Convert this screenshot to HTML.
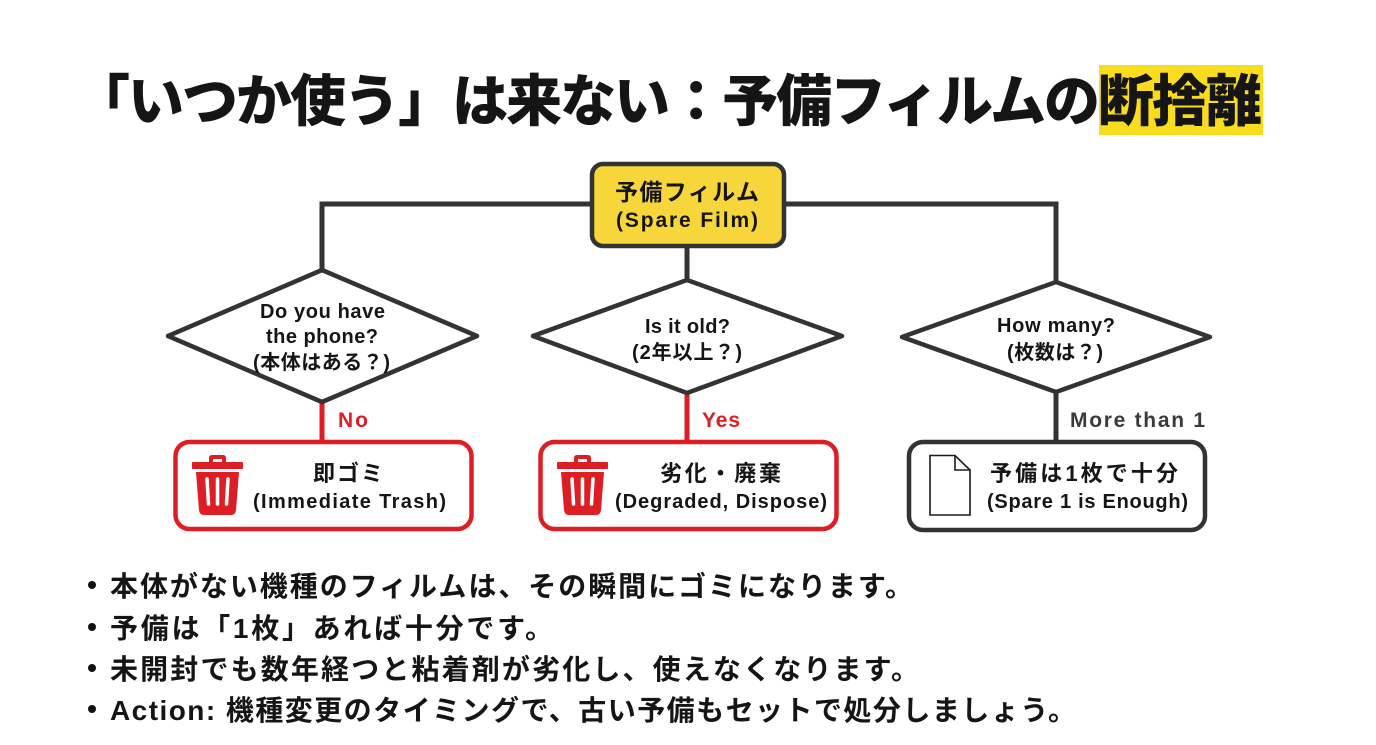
<!DOCTYPE html>
<html lang="ja">
<head>
<meta charset="utf-8">
<style>
  html, body { margin: 0; padding: 0; background: #ffffff; }
  body { width: 1376px; height: 745px; overflow: hidden; }
  svg { display: block; }
  text { font-family: "Liberation Sans", "Noto Sans CJK JP", sans-serif; font-weight: bold; fill: #151515; }
</style>
</head>
<body>
<svg width="1376" height="745" viewBox="0 0 1376 745" xmlns="http://www.w3.org/2000/svg">
  <rect x="0" y="0" width="1376" height="745" fill="#ffffff"/>

  <!-- Title -->
  <rect x="1099" y="65" width="164" height="70" fill="#FADC1E"/>
  <text x="74" y="121" font-size="56" style="font-weight:900" fill="#0a0a0a" textLength="1188" lengthAdjust="spacing">「いつか使う」は来ない：予備フィルムの断捨離</text>

  <!-- Connectors (dark) -->
  <g stroke="#333333" stroke-width="5" fill="none" stroke-linecap="square">
    <polyline points="592,204 322,204 322,270"/>
    <polyline points="784,204 1056,204 1056,282"/>
    <line x1="687" y1="246" x2="687" y2="280"/>
    <line x1="1056" y1="392" x2="1056" y2="440"/>
  </g>
  <!-- Connectors (red) -->
  <g stroke="#DD1E24" stroke-width="5" fill="none">
    <line x1="322" y1="402" x2="322" y2="441"/>
    <line x1="687" y1="393" x2="687" y2="441"/>
  </g>

  <!-- Top node -->
  <rect x="592" y="164" width="192" height="82" rx="11" ry="11" fill="#F6D63A" stroke="#333333" stroke-width="4.5"/>
  <text x="615" y="200" font-size="23" textLength="144" lengthAdjust="spacing">予備フィルム</text>
  <text x="616" y="227" font-size="21" textLength="142" lengthAdjust="spacing">(Spare Film)</text>

  <!-- Diamonds -->
  <g fill="#ffffff" stroke="#333333" stroke-width="4.5" stroke-linejoin="round">
    <polygon points="168,336 322,270 477,336 322,402"/>
    <polygon points="533,336 687,280 842,336 687,393"/>
    <polygon points="902,337 1056,282 1210,337 1056,392"/>
  </g>

  <!-- Diamond texts -->
  <text x="260" y="318" font-size="20" textLength="125" lengthAdjust="spacing">Do you have</text>
  <text x="266" y="343" font-size="20" textLength="112" lengthAdjust="spacing">the phone?</text>
  <text x="253" y="369" font-size="20" textLength="137" lengthAdjust="spacing">(本体はある？)</text>

  <text x="645" y="333" font-size="20" textLength="85" lengthAdjust="spacing">Is it old?</text>
  <text x="632" y="359" font-size="20" textLength="110" lengthAdjust="spacing">(2年以上？)</text>

  <text x="997" y="332" font-size="20" textLength="118" lengthAdjust="spacing">How many?</text>
  <text x="1007" y="359" font-size="20" textLength="96" lengthAdjust="spacing">(枚数は？)</text>

  <!-- Edge labels -->
  <text x="338" y="427" font-size="21" fill="#DD1E24" style="fill:#DD1E24" textLength="30" lengthAdjust="spacing">No</text>
  <text x="702" y="427" font-size="21" style="fill:#DD1E24" textLength="38" lengthAdjust="spacing">Yes</text>
  <text x="1070" y="427" font-size="21" style="fill:#3a3a3a" textLength="135" lengthAdjust="spacing">More than 1</text>

  <!-- Result boxes -->
  <rect x="175.5" y="442" width="296" height="87" rx="14" ry="14" fill="#ffffff" stroke="#DD1E24" stroke-width="4.5"/>
  <rect x="540.5" y="442" width="296" height="87" rx="14" ry="14" fill="#ffffff" stroke="#DD1E24" stroke-width="4.5"/>
  <rect x="909" y="442" width="296" height="88" rx="14" ry="14" fill="#ffffff" stroke="#333333" stroke-width="4.5"/>

  <!-- Trash icon 1 -->
  <g id="trash">
    <path d="M209,463 V458 Q209,455 212,455 H223 Q226,455 226,458 V463 H222 V459 H213 V463 Z" fill="#DD1E24"/>
    <rect x="192" y="462" width="51" height="7" rx="1" fill="#DD1E24"/>
    <path d="M196,472 H239 L236,510 Q235.5,515 231,515 H204 Q199.5,515 199,510 Z" fill="#DD1E24"/>
    <g stroke="#ffffff" stroke-width="3.5" stroke-linecap="round">
      <line x1="207" y1="479" x2="208.5" y2="504"/>
      <line x1="217.5" y1="479" x2="217.5" y2="504"/>
      <line x1="228" y1="479" x2="226.5" y2="504"/>
    </g>
  </g>
  <!-- Trash icon 2 -->
  <g transform="translate(365,0)">
    <path d="M209,463 V458 Q209,455 212,455 H223 Q226,455 226,458 V463 H222 V459 H213 V463 Z" fill="#DD1E24"/>
    <rect x="192" y="462" width="51" height="7" rx="1" fill="#DD1E24"/>
    <path d="M196,472 H239 L236,510 Q235.5,515 231,515 H204 Q199.5,515 199,510 Z" fill="#DD1E24"/>
    <g stroke="#ffffff" stroke-width="3.5" stroke-linecap="round">
      <line x1="207" y1="479" x2="208.5" y2="504"/>
      <line x1="217.5" y1="479" x2="217.5" y2="504"/>
      <line x1="228" y1="479" x2="226.5" y2="504"/>
    </g>
  </g>

  <!-- Document icon -->
  <path d="M930,455.5 H955 L970,470 V515 H930 Z" fill="#ffffff" stroke="#1a1a1a" stroke-width="1.6" stroke-linejoin="miter"/>
  <path d="M955,455.5 V470 H970" fill="none" stroke="#1a1a1a" stroke-width="1.6"/>

  <!-- Box texts -->
  <text x="313" y="481" font-size="22" textLength="70" lengthAdjust="spacing">即ゴミ</text>
  <text x="253" y="508" font-size="20" textLength="193" lengthAdjust="spacing">(Immediate Trash)</text>

  <text x="660" y="481" font-size="22" textLength="121" lengthAdjust="spacing">劣化・廃棄</text>
  <text x="615" y="508" font-size="20" textLength="212" lengthAdjust="spacing">(Degraded, Dispose)</text>

  <text x="990" y="481" font-size="22" textLength="188" lengthAdjust="spacing">予備は1枚で十分</text>
  <text x="987" y="508" font-size="20" textLength="201" lengthAdjust="spacing">(Spare 1 is Enough)</text>

  <!-- Bullets -->
  <g fill="#111111">
    <circle cx="92" cy="585" r="4"/>
    <circle cx="92" cy="627" r="4"/>
    <circle cx="92" cy="668" r="4"/>
    <circle cx="92" cy="709" r="4"/>
  </g>
  <text x="110" y="596" font-size="28" textLength="803" lengthAdjust="spacing">本体がない機種のフィルムは、その瞬間にゴミになります。</text>
  <text x="110" y="638" font-size="28" textLength="443" lengthAdjust="spacing">予備は「1枚」あれば十分です。</text>
  <text x="110" y="679" font-size="28" textLength="809" lengthAdjust="spacing">未開封でも数年経つと粘着剤が劣化し、使えなくなります。</text>
  <text x="110" y="720" font-size="28" textLength="966" lengthAdjust="spacing">Action: 機種変更のタイミングで、古い予備もセットで処分しましょう。</text>
</svg>
</body>
</html>
